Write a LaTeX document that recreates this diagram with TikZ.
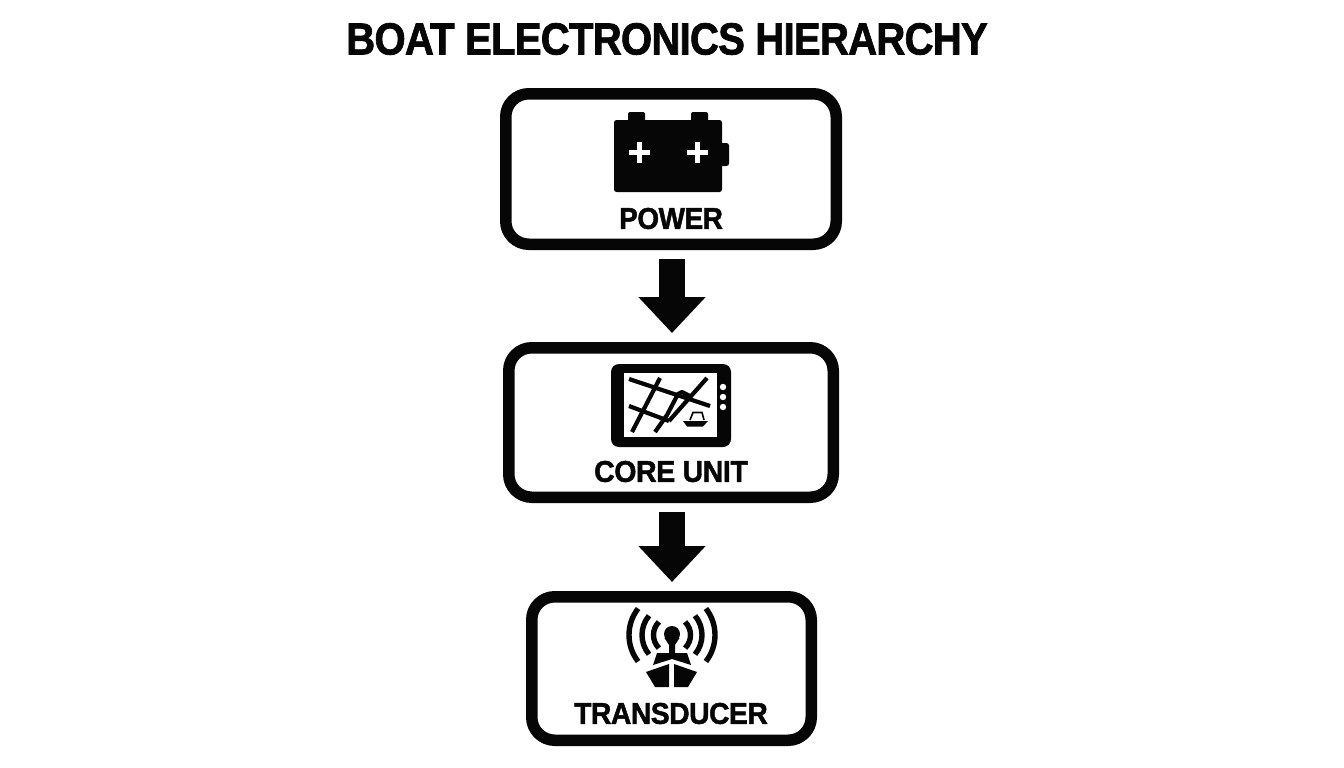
\documentclass[tikz,border=0pt]{standalone}
\usepackage{fontspec}
\setmainfont{Liberation Sans}[BoldFeatures={FakeBold=1.6}]
\usetikzlibrary{arrows.meta}
\definecolor{ink}{HTML}{060606}
\tikzset{
  box/.style={draw=ink,line width=11.5pt,rounded corners=23pt,fill=white,inner sep=0pt},
  flow/.style={draw=ink,line width=26pt,-{Triangle[width=65pt,length=36pt,fill=ink]},shorten <=9pt,shorten >=9pt},
  lbl/.style={text=ink,inner sep=0pt,font=\bfseries\fontsize{30}{32}\selectfont\addfontfeatures{LetterSpace=-1.5}},
  road/.style={draw=ink,line width=4.2pt},
  wave/.style={draw=ink,line width=5.4pt},
}
\begin{document}
\begin{tikzpicture}[x=1pt,y=-1pt]
\useasboundingbox (0,0) rectangle (1344,768);
\fill[white] (0,0) rectangle (1344,768);
\node[text=ink,inner sep=0pt,font=\bfseries\fontsize{45}{48}\selectfont\addfontfeatures{LetterSpace=-2}] (title) at (667,39) {\scalebox{.893}[1]{BOAT ELECTRONICS HIERARCHY}};
\node[box,minimum width=330.5pt,minimum height=150.5pt] (power) at (671,169) {};
\node[box,minimum width=324.5pt,minimum height=149.5pt] (core) at (671,422.5) {};
\node[box,minimum width=279.5pt,minimum height=143.5pt] (trans) at (671.5,668.5) {};
\draw[flow] (power.south -| 672,0) -- (core.north -| 672,0);
\draw[flow] (core.south -| 672,0) -- (trans.north -| 672,0);
% battery
\fill[ink,rounded corners=2.5pt] (614,120) rectangle (722,192);
\fill[ink,rounded corners=2pt] (628,112) rectangle (645,124);
\fill[ink,rounded corners=2pt] (691,112) rectangle (708,124);
\fill[ink,rounded corners=2.5pt] (716,143) rectangle (729,166);
\foreach \cx in {639,697}{
  \fill[white] (\cx-10.5,152-2.5) rectangle (\cx+10.5,152+2.5);
  \fill[white] (\cx-2.5,152-10.5) rectangle (\cx+2.5,152+10.5);
}
\node[lbl] (plabel) at (671,218.5) {\scalebox{.93}[1]{POWER}};
% plotter
\fill[ink,rounded corners=8pt] (611,364) rectangle (731,447);
\fill[white] (624,373) rectangle (717,437);
\foreach \dy in {387,397,407} \fill[white] (723,\dy) circle (3.2pt);
\draw[road] (629,379) -- (710,406);
\draw[road] (660,378) -- (632,432);
\draw[road] (629,406) -- (669,421);
\draw[road] (707,378) -- (669,421);
\draw[road,line join=round] (655,432) -- (667,415) -- (678,394) -- (682,392) -- (690,396);
\fill[ink] (683,421) -- (708,421) -- (703,426.5) -- (687,426.5) -- cycle;
\draw[ink,line width=1.6pt] (690,420) -- (693,412.5) -- (702,412.5) -- (704,420);
\node[lbl] (clabel) at (671,471.5) {\scalebox{.95}[1]{CORE UNIT}};
% transducer
\coordinate (src) at (672,635);
\foreach \r/\a in {43/38,30/40,18.5/45}{
  \draw[wave] (src) ++(180-\a:\r pt) arc[start angle=180-\a,end angle=180+\a,radius=\r pt];
  \draw[wave] (src) ++(-\a:\r pt) arc[start angle=-\a,end angle=\a,radius=\r pt];
}
\fill[ink] (672,634) circle (8pt);
\fill[ink] (664.5,638) -- (679.5,638) -- (675,645) -- (675,653) -- (669,653) -- (669,645) -- cycle;
\fill[ink] (657,653) -- (687,653) -- (691,665) -- (672,659) -- (653,665) -- cycle;
\fill[ink] (646,672) -- (669,664) -- (669,687) -- (655,687) -- cycle;
\fill[ink] (674,664) -- (697,672) -- (688,687) -- (674,687) -- cycle;
\node[lbl] (tlabel) at (671,713.5) {\scalebox{.94}[1]{TRANSDUCER}};
\end{tikzpicture}
\end{document}
